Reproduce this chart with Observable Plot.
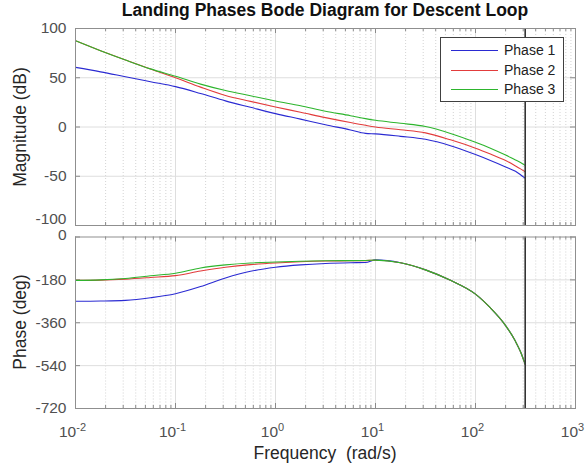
<!DOCTYPE html>
<html><head><meta charset="utf-8">
<script src="https://cdn.jsdelivr.net/npm/d3@7"></script>
<script src="https://cdn.jsdelivr.net/npm/@observablehq/plot@0.6"></script>
<style>
body{margin:0;background:#fff;font-family:"Liberation Sans",Arial,Helvetica,sans-serif;}
#wrap{position:relative;width:586px;height:470px;overflow:hidden;background:#fff;}
.abs{position:absolute;}
#title{left:0;width:650px;top:0px;line-height:20px;text-align:center;font-weight:bold;font-size:17.5px;color:#111;z-index:5;}
.ylab{width:200px;text-align:center;font-size:17.5px;line-height:20px;color:#262626;transform:rotate(-90deg);}
#xlab{left:175px;width:300px;top:443px;line-height:20px;text-align:center;font-size:17.5px;color:#262626;white-space:pre;}
#legend{left:440px;top:37px;width:122px;height:63px;border:1px solid #404040;background:#fff;z-index:10;}
.lrow{position:absolute;left:0;width:122px;height:18px;font-size:14px;color:#222;}
.lline{position:absolute;left:10px;width:47px;top:9px;height:0;border-top-width:1px;border-top-style:solid;}
.ltxt{position:absolute;left:63px;top:0;line-height:18px;}
</style></head><body>
<div id="wrap">
  <div id="title" class="abs">Landing Phases Bode Diagram for Descent Loop</div>
  <div id="topPanel" class="abs" style="left:0;top:0"></div>
  <div id="botPanel" class="abs" style="left:0;top:232px"></div>
  <div class="abs ylab" style="left:-80px;top:117px">Magnitude (dB)</div>
  <div class="abs ylab" style="left:-80px;top:312px">Phase (deg)</div>
  <div id="xlab" class="abs">Frequency  (rad/s)</div>
  <div id="legend" class="abs"></div>
</div>
<script>
// ---- data ----
const freq = [0.01, 0.0178, 0.0316, 0.0562, 0.1, 0.178, 0.316, 0.562, 1, 1.78, 3.16, 5.62, 7.94, 10, 17.8, 31.6, 56.2, 100, 141, 200, 251, 282, 314];
const seriesNames = ["Phase 1", "Phase 2", "Phase 3"];
const seriesColors = ["#2a2ad2", "#e23c3c", "#2db52d"];
const mag1 = [60.5, 56, 51, 46, 41, 34, 26.5, 20, 13.6, 8, 2.3, -3, -6.5, -7, -9.5, -12.5, -19, -28, -34, -40.5, -45, -48.5, -52];
const mag2 = [87.5, 77.5, 68, 58.8, 50, 40.5, 32, 26, 20.3, 15, 9.5, 4.5, 1.7, 0, -2.8, -6, -13, -21.5, -27.5, -34, -39.5, -42.5, -45.5];
const mag3 = [87.5, 77.5, 68, 59, 51.5, 43.5, 37, 31.7, 26.4, 21.5, 16, 11.5, 8.5, 6.8, 3.8, 0.5, -6.5, -15.5, -21.5, -28.5, -33.5, -36, -39];
const phase1 = [-270, -269, -266, -255, -238, -208, -172, -144, -127, -117, -111, -108, -107, -96, -108, -138, -182, -240, -298, -372, -438, -482, -535];
const phase2 = [-182, -181, -177, -170, -162, -143, -127, -116, -109, -104, -101, -100, -99, -97.5, -108, -138, -182, -240, -298, -372, -438, -482, -535];
const phase3 = [-182, -180, -174, -163, -152, -130, -117, -109, -105, -102, -100, -99, -98.5, -97, -108, -138, -182, -240, -298, -372, -438, -482, -535];
const xTicks = [0.01, 0.1, 1, 10, 100, 1000];
const magTicks = [-100, -50, 0, 50, 100];
const phaseTicks = [-720, -540, -360, -180, 0];
const nyquist = [314];

// ---- build table ----
const mags = [mag1, mag2, mag3], phases = [phase1, phase2, phase3];
const rows = [];
seriesNames.forEach((s, i) => freq.forEach((f, j) => rows.push({f, s, mag: mags[i][j], phase: phases[i][j]})));
const minor = [];
xTicks.slice(0, -1).forEach(k => { for (let m = 2; m <= 9; m++) minor.push(m * k); });

const W = 586, ML = 75, MR = 11;
const fontFamily = '"Liberation Sans", Arial, Helvetica, sans-serif';

function panel({key, yDomain, yTicks, height, marginTop, marginBottom, showX}) {
  const ph = height - marginTop - marginBottom;
  const u = (yDomain[1] - yDomain[0]) / ph;
  const [y0, y1] = yDomain;
  const dec = 5 / ((W - ML - MR) / 5);
  const xIn = 0.01 * Math.pow(10, dec), xOut = 1000 / Math.pow(10, dec);
  return Plot.plot({
    width: W, height, marginLeft: ML, marginRight: MR, marginTop, marginBottom,
    style: {fontSize: "15.5px", fontFamily, color: "#505050", background: "transparent", overflow: "visible"},
    x: {type: "log", domain: [0.01, 1000], ticks: xTicks, axis: showX ? "bottom" : null,
        tickFormat: d => "10^" + Math.round(Math.log10(d)), tickSize: 0, tickPadding: 17, label: null},
    y: {domain: yDomain, ticks: yTicks, tickSize: 0, tickPadding: 9, label: null, tickFormat: d => String(d)},
    color: {domain: seriesNames, range: seriesColors},
    marks: [
      Plot.ruleX(minor, {stroke: "#c8c8c8", strokeDasharray: "1,2", strokeWidth: 0.8}),
      Plot.ruleX(xTicks.slice(1, -1), {stroke: "#dedede", strokeWidth: 1}),
      Plot.ruleY(yTicks.slice(1, -1), {stroke: "#dedede", strokeWidth: 1}),
      Plot.ruleX(minor, {y1: y0, y2: y0 + 3 * u, stroke: "#8a8a8a"}),
      Plot.ruleX(minor, {y1: y1 - 3 * u, y2: y1, stroke: "#8a8a8a"}),
      Plot.ruleX(xTicks, {y1: y0, y2: y0 + 5 * u, stroke: "#8a8a8a"}),
      Plot.ruleX(xTicks, {y1: y1 - 5 * u, y2: y1, stroke: "#8a8a8a"}),
      Plot.ruleY(yTicks, {x1: 0.01, x2: xIn, stroke: "#8a8a8a"}),
      Plot.ruleY(yTicks, {x1: xOut, x2: 1000, stroke: "#8a8a8a"}),
      Plot.line(rows, {x: "f", y: key, z: "s", stroke: "s", curve: "monotone-x", strokeWidth: 1.1}),
      Plot.ruleX(nyquist, {stroke: "#333", strokeWidth: 1.6}),
      Plot.frame({stroke: "#8f8f8f", strokeWidth: 1})
    ]
  });
}

const topChart = panel({key: "mag", yDomain: [-100, 100], yTicks: magTicks, height: 232, marginTop: 28, marginBottom: 7, showX: false});
const botChart = panel({key: "phase", yDomain: [-720, 0], yTicks: phaseTicks, height: 238, marginTop: 4.5, marginBottom: 62, showX: true});
document.getElementById("topPanel").appendChild(topChart);
document.getElementById("botPanel").appendChild(botChart);

// superscript exponents on x tick labels
botChart.querySelectorAll('g[aria-label="x-axis tick label"] text').forEach(t => {
  const m = /^10\^(-?\d+)$/.exec(t.textContent.trim());
  if (!m) return;
  t.textContent = "10";
  t.setAttribute("dx", "-3");
  const ts = document.createElementNS("http://www.w3.org/2000/svg", "tspan");
  ts.setAttribute("dy", "-0.5em");
  ts.setAttribute("font-size", "11px");
  ts.textContent = m[1];
  t.appendChild(ts);
});
// keep the adjoining "-100" and "0" labels apart, as in the reference
topChart.querySelectorAll('g[aria-label="y-axis tick label"] text').forEach(t => {
  if (t.textContent.trim() === "-100") t.setAttribute("y", (parseFloat(t.getAttribute("y")) || 0) - 1.5);
});
botChart.querySelectorAll('g[aria-label="y-axis tick label"] text').forEach(t => {
  if (t.textContent.trim() === "0") t.setAttribute("y", (parseFloat(t.getAttribute("y")) || 0) + 2.5);
});

// legend
const lg = document.getElementById("legend");
seriesNames.forEach((s, i) => {
  const r = document.createElement("div");
  r.className = "lrow";
  r.style.top = (3 + i * 19.5) + "px";
  const ln = document.createElement("div");
  ln.className = "lline";
  ln.style.borderTopColor = seriesColors[i];
  const tx = document.createElement("div");
  tx.className = "ltxt";
  tx.textContent = s;
  r.appendChild(ln); r.appendChild(tx);
  lg.appendChild(r);
});
</script>
</body></html>
